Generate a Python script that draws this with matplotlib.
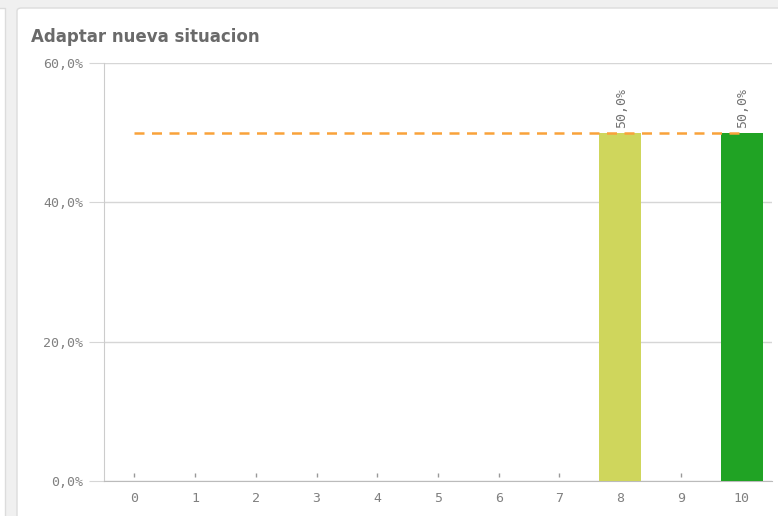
import matplotlib.pyplot as plt
from matplotlib.patches import FancyBboxPatch, Rectangle

# chart data
title = 'Adaptar nueva situacion'
categories = ['0', '1', '2', '3', '4', '5', '6', '7', '8', '9', '10']
values = [0.0, 0.0, 0.0, 0.0, 0.0, 0.0, 0.0, 0.0, 0.5, 0.0, 0.5]
bar_colors = ['#cfd65c'] * 10 + ['#20a324']
reference_value = 0.5
y_ticks = [0.0, 0.2, 0.4, 0.6]


def pct(v):
    return f'{v * 100:.1f}%'.replace('.', ',')


W, H = 778, 516
fig = plt.figure(figsize=(W / 100, H / 100), dpi=100)
fig.patch.set_facecolor('#f0f0f0')

# background cards
fig.patches.append(FancyBboxPatch((17 / W, -0.05), 0.99, 1 - 8 / H + 0.05,
                                  boxstyle='round,pad=0,rounding_size=0.006',
                                  transform=fig.transFigure, facecolor='white',
                                  edgecolor='#dcdcdc', linewidth=1, zorder=-2))
fig.patches.append(Rectangle((-0.01, -0.05), 5.5 / W + 0.01, 1 - 8 / H + 0.05,
                             transform=fig.transFigure, facecolor='white',
                             edgecolor='#dcdcdc', linewidth=1, zorder=-2))

fig.text(31 / W, 1 - 37 / H, title, fontsize=12, fontweight='bold', color='#6a6a6a',
         va='center', ha='left')

ax = fig.add_axes([104 / W, 1 - 481 / H, (772 - 104) / W, (481 - 63) / H])
ax.set_facecolor('white')

x = list(range(len(categories)))
bars = ax.bar(x, values, width=0.69, color=bar_colors, zorder=3)

# small marks for zero values
zx = [i for i, v in zip(x, values) if v == 0]
ax.scatter(zx, [0.008] * len(zx), marker='|', s=12, color='#999999', linewidths=1, zorder=3)

for i, v in zip(x, values):
    if v > 0:
        ax.text(i + 0.02, v + 0.006, pct(v), rotation=90, ha='center', va='bottom',
                fontsize=9.5, family='DejaVu Sans Mono', color='#707070')

ax.plot([0, len(categories) - 1], [reference_value, reference_value], linestyle=(0, (4, 3)),
        color='#f9a23a', linewidth=1.8, zorder=4)

ax.set_xlim(-0.5, len(categories) - 0.5)
ax.set_ylim(0, 0.6)
ax.set_yticks(y_ticks)
ax.set_yticklabels([pct(v) for v in y_ticks])
ax.set_xticks(x)
ax.set_xticklabels(categories)
ax.grid(axis='y', color='#d6d6d6', linewidth=1, zorder=0)
ax.tick_params(axis='y', length=11, color='#d6d6d6', labelsize=9.5, labelcolor='#808080', pad=4)
ax.tick_params(axis='x', length=0, labelsize=9.5, labelcolor='#808080', pad=8)
for lbl in ax.get_xticklabels() + ax.get_yticklabels():
    lbl.set_family('DejaVu Sans Mono')

for side in ['top', 'right']:
    ax.spines[side].set_visible(False)
ax.spines['left'].set_color('#cccccc')
ax.spines['bottom'].set_color('#bbbbbb')

fig.savefig('out.png', dpi=100)
